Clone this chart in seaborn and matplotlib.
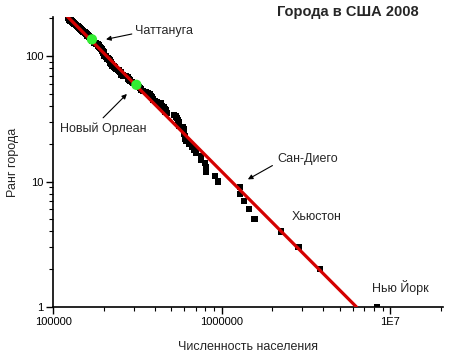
import matplotlib
matplotlib.use('Agg')
import matplotlib.pyplot as plt
import matplotlib.ticker as mticker
import seaborn as sns
import pandas as pd

# 2008 population of US cities (thousands), ordered by rank
POPULATION_K = [
    8364, 3834, 2853, 2242, 1568, 1447, 1351, 1280, 1279, 948,
    912, 809, 808, 798, 758, 755, 703, 687, 670, 637,
    613, 609, 604, 599, 599, 596, 592, 558, 557, 557,
    552, 542, 538, 522, 476, 464, 464, 463, 452, 439,
    434, 434, 413, 404, 393, 386, 383, 380, 376, 374,
    366, 354, 341, 334, 333, 329, 325, 319, 312, 310,
    297, 293, 287, 286, 282, 280, 279, 278, 271, 261,
    254, 252, 252, 252, 251, 247, 245, 243, 235, 233,
    232, 231, 229, 224, 223, 222, 220, 220, 219, 219,
    217, 217, 217, 215, 210, 210, 208, 207, 207, 205,
    201, 201, 201, 200, 200, 199, 199, 199, 198, 197,
    196, 196, 195, 193, 192, 191, 189, 188, 187, 187,
    186, 186, 184, 184, 181, 179, 176, 176, 175, 175,
    173, 172, 171, 171, 171, 170, 169, 168, 168, 166,
    165, 164, 163, 162, 161, 160, 159, 159, 158, 157,
    156, 156, 155, 154, 153, 152, 151, 151, 150, 149,
    148, 148, 147, 146, 146, 145, 144, 143, 142, 142,
    141, 140, 140, 139, 138, 137, 137, 136, 135, 135,
    134, 133, 133, 132, 131, 131, 130, 129, 129, 128,
    128, 127, 127, 126, 126, 125, 125, 124, 124, 123,
]
RANK = list(range(1, len(POPULATION_K) + 1))

HIGHLIGHT_POP = [170000, 312000]   # Chattanooga, New Orleans
HIGHLIGHT_RANK = [136, 59]

FIT_POP = [100000, 6300000]
FIT_RANK = [269, 1]

LABELS = {
    'Чаттануга': ((305e3, 158), (206e3, 136), (293e3, 150)),
    'Новый Орлеан': ((110e3, 26.3), (274e3, 49.9), (198e3, 32.2)),
    'Сан-Диего': ((2.14e6, 15.2), (1.43e6, 10.4), (2.0e6, 13.4)),
    'Хьюстон': ((2.59e6, 5.18), None, None),
    'Нью Йорк': ((7.82e6, 1.42), None, None),
}

df = pd.DataFrame({'pop': [p * 1000 for p in POPULATION_K], 'rank': RANK})

sns.set_theme(style='ticks')
plt.rcParams['font.family'] = ['Liberation Sans', 'DejaVu Sans']

fig = plt.figure(figsize=(4.5, 3.54), dpi=100)
ax = fig.add_axes([0.118, 0.133, 0.866, 0.819])

sns.scatterplot(data=df, x='pop', y='rank', marker='s', s=20, color='black',
                edgecolor='none', ax=ax, zorder=2)
sns.lineplot(x=FIT_POP, y=FIT_RANK, color='#d40000', lw=2.3, ax=ax, zorder=3)
sns.scatterplot(x=HIGHLIGHT_POP, y=HIGHLIGHT_RANK, color='#33ee33', s=55,
                edgecolor='none', ax=ax, zorder=4)

ax.set_xscale('log')
ax.set_yscale('log')
ax.set_xlim(1e5, 2.05e7)
ax.set_ylim(1, 205)

ax.xaxis.set_major_locator(mticker.FixedLocator([1e5, 1e6, 1e7]))
ax.xaxis.set_major_formatter(mticker.FixedFormatter(['100000', '1000000', '1E7']))
ax.xaxis.set_minor_locator(mticker.LogLocator(base=10, subs=range(2, 10)))
ax.xaxis.set_minor_formatter(mticker.NullFormatter())
ax.yaxis.set_major_locator(mticker.FixedLocator([1, 10, 100]))
ax.yaxis.set_major_formatter(mticker.FixedFormatter(['1', '10', '100']))
ax.yaxis.set_minor_locator(mticker.LogLocator(base=10, subs=range(2, 10)))
ax.yaxis.set_minor_formatter(mticker.NullFormatter())

ax.tick_params(which='major', direction='out', length=5, width=1, labelsize=8,
               color='black', labelcolor='black', pad=2)
ax.tick_params(which='minor', direction='out', length=3, width=0.8, color='black')
for side in ['top', 'right']:
    ax.spines[side].set_visible(False)
for side in ['left', 'bottom']:
    ax.spines[side].set_linewidth(1.2)
    ax.spines[side].set_color('black')

ax.set_xlabel('Численность населения', fontsize=9, labelpad=10)
ax.set_ylabel('Ранг города', fontsize=9, labelpad=4)

for text, (pos, tip, tail) in LABELS.items():
    ax.text(pos[0], pos[1], text, fontsize=9, ha='left', va='center')
    if tip is not None:
        ax.annotate('', xy=tip, xytext=tail,
                    arrowprops=dict(arrowstyle='-|>', color='black', lw=0.8,
                                    mutation_scale=7, shrinkA=0, shrinkB=0))

fig.text(348 / 450, 1 - 12 / 354, 'Города в США 2008', fontsize=10.5,
         fontweight='bold', ha='center', va='center')

fig.savefig('out.png', dpi=100)
